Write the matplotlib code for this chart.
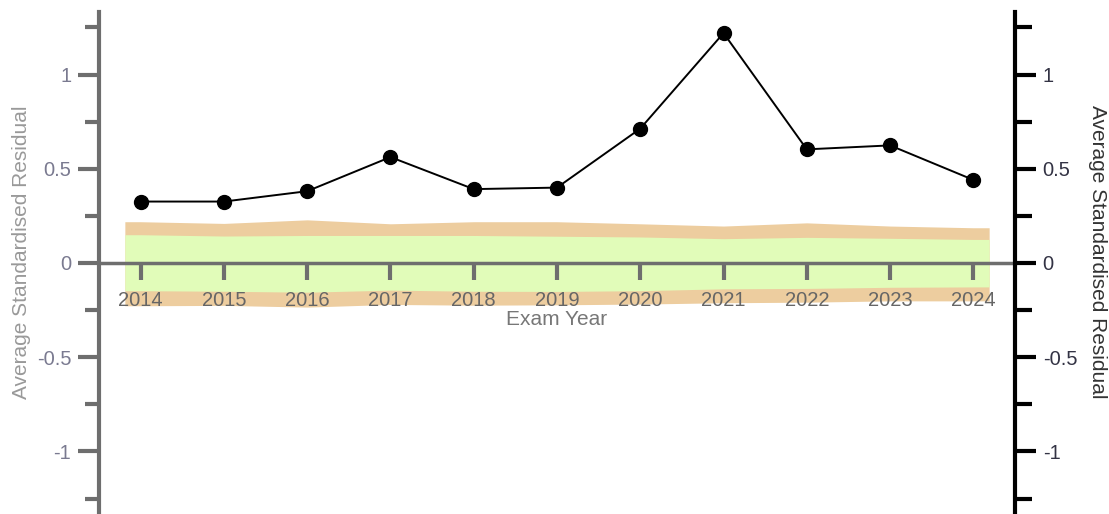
import numpy as np
import matplotlib.pyplot as plt
from matplotlib.ticker import MultipleLocator

plt.rcParams['font.family'] = ['Liberation Sans', 'DejaVu Sans']

# exam years and the average standardised residual for each
years = [2014, 2015, 2016, 2017, 2018, 2019, 2020, 2021, 2022, 2023, 2024]
residual = [0.326, 0.326, 0.381, 0.562, 0.392, 0.400, 0.713, 1.220, 0.603, 0.624, 0.441]

# confidence bands (outer = tan, inner = green)
outer_hi = [0.219, 0.210, 0.229, 0.208, 0.219, 0.219, 0.208, 0.196, 0.213, 0.196, 0.187]
inner_hi = [0.150, 0.143, 0.146, 0.146, 0.146, 0.142, 0.138, 0.129, 0.136, 0.131, 0.125]
inner_lo = [-0.147, -0.150, -0.155, -0.144, -0.150, -0.151, -0.147, -0.137, -0.135, -0.129, -0.127]
outer_lo = [-0.227, -0.225, -0.234, -0.220, -0.224, -0.222, -0.218, -0.211, -0.208, -0.201, -0.201]

# band runs a little past the first and last year
bx = [years[0] - 0.19] + years + [years[-1] + 0.19]
def ext(v):
    return [v[0]] + v + [v[-1]]

fig = plt.figure(figsize=(11.09, 5.14), dpi=100)
ax = fig.add_axes([0.0893, 0.0, 0.9152 - 0.0893, 0.9767])
ax.set_xlim(2013.5, 2024.5)
ax.set_ylim(-1.332, 1.332)

ax.fill_between(bx, ext(outer_lo), ext(outer_hi), color='#edcd9f', lw=0, zorder=1)
ax.fill_between(bx, ext(inner_lo), ext(inner_hi), color='#e1fcb9', lw=0, zorder=2)

ax.plot(years, residual, color='black', lw=1.4, marker='o', ms=10, zorder=5)

gray = '#6e6e6e'
for s in ['top', 'right']:
    ax.spines[s].set_visible(False)
ax.spines['left'].set_color(gray)
ax.spines['left'].set_linewidth(3)
ax.spines['bottom'].set_position(('data', 0))
ax.spines['bottom'].set_color(gray)
ax.spines['bottom'].set_linewidth(2.5)
ax.spines['bottom'].set_zorder(3)
ax.xaxis.set_zorder(4)

ax.set_xticks(years)
ax.tick_params(axis='x', direction='out', length=12, width=3, color=gray,
               labelcolor='#666666', labelsize=14.5, pad=8)
ax.yaxis.set_major_locator(MultipleLocator(0.5))
ax.yaxis.set_minor_locator(MultipleLocator(0.25))
ax.tick_params(axis='y', which='major', direction='out', length=15, width=3, color=gray,
               labelcolor='#7a7a90', labelsize=14.5, pad=5)
ax.tick_params(axis='y', which='minor', direction='out', length=10, width=3, color=gray)
ax.yaxis.set_major_formatter(plt.FuncFormatter(lambda v, p: ('%g' % v)))

ax.text(2019, -0.3, 'Exam Year', ha='center', va='center', fontsize=15, color='#777777')
fig.text(0.019, 0.51, 'Average Standardised Residual', rotation=90, ha='center', va='center',
         fontsize=15, color='#999999')

ax2 = ax.twinx()
ax2.set_ylim(ax.get_ylim())
ax2.set_position(ax.get_position())
for s in ['top', 'left', 'bottom']:
    ax2.spines[s].set_visible(False)
ax2.spines['right'].set_color('black')
ax2.spines['right'].set_linewidth(3)
ax2.yaxis.set_major_locator(MultipleLocator(0.5))
ax2.yaxis.set_minor_locator(MultipleLocator(0.25))
ax2.yaxis.set_major_formatter(plt.FuncFormatter(lambda v, p: ('%g' % v)))
ax2.tick_params(axis='y', which='major', direction='out', length=15, width=3, color='black',
                labelcolor='#333344', labelsize=14.5, pad=5)
ax2.tick_params(axis='y', which='minor', direction='out', length=12, width=3, color='black')
fig.text(0.99, 0.51, 'Average Standardised Residual', rotation=270, ha='center', va='center',
         fontsize=15, color='#333333')

fig.savefig('out.png', dpi=100)
